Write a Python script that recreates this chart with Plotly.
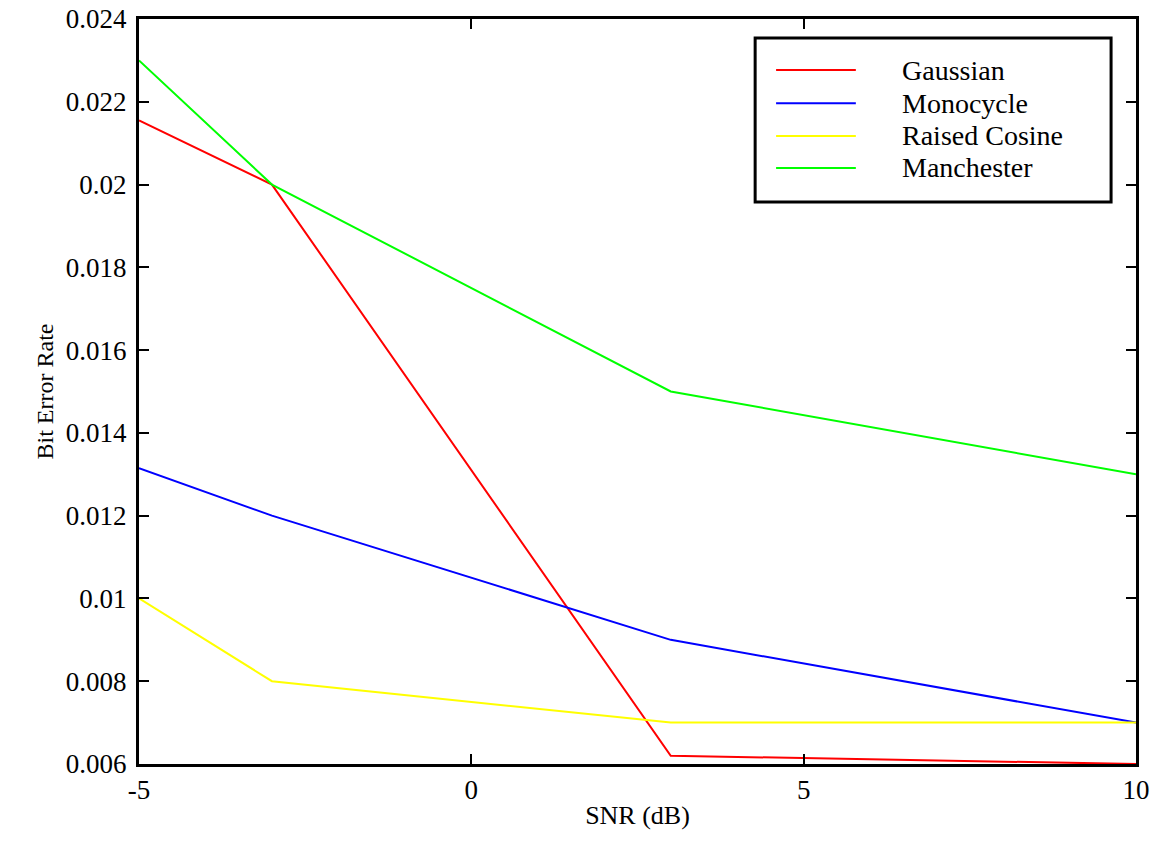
import plotly.graph_objects as go

snr = [-5, -3, 3, 10]
series_names = ["Gaussian", "Monocycle", "Raised Cosine", "Manchester"]
gaussian = [0.02155, 0.0200, 0.0062, 0.0060]
monocycle = [0.01315, 0.0120, 0.0090, 0.0070]
raised_cosine = [0.0100, 0.0080, 0.0070, 0.0070]
manchester = [0.0230, 0.0200, 0.0150, 0.0130]
colors = ["#ff0000", "#0000ff", "#ffff00", "#00ff00"]

y_ticks = [0.006, 0.008, 0.01, 0.012, 0.014, 0.016, 0.018, 0.02, 0.022, 0.024]
y_ticktext = ["0.006", "0.008", "0.01", "0.012", "0.014", "0.016", "0.018", "0.02", "0.022", "0.024"]
x_ticks = [-5, 0, 5, 10]
x_ticktext = ["-5", "0", "5", "10"]

FONT = "Liberation Serif"

fig = go.Figure()
for name, vals, c in zip(series_names, [gaussian, monocycle, raised_cosine, manchester], colors):
    fig.add_trace(go.Scatter(x=snr, y=vals, mode="lines", name=name,
                             line=dict(color=c, width=2), showlegend=False))

# custom legend (box, lines, labels) in paper coordinates
lx0, lx1 = 0.618, 0.975
ly0, ly1 = 0.7544, 0.9745
row_y = [0.9315, 0.887, 0.843, 0.800]
fig.add_shape(type="rect", xref="paper", yref="paper", x0=lx0, x1=lx1, y0=ly0, y1=ly1,
              line=dict(color="black", width=3), fillcolor="white", layer="above")
for name, c, ry in zip(series_names, colors, row_y):
    fig.add_shape(type="line", xref="paper", yref="paper", x0=0.639, x1=0.719, y0=ry, y1=ry,
                  line=dict(color=c, width=2), layer="above")
    fig.add_annotation(xref="paper", yref="paper", x=0.763, y=ry, text=name, showarrow=False,
                       xanchor="left", yanchor="middle", font=dict(family=FONT, size=28, color="black"))

axis_common = dict(showline=True, linecolor="black", linewidth=3, mirror="ticks",
                   ticks="inside", ticklen=10, tickwidth=1.5, tickcolor="black",
                   showgrid=False, zeroline=False, automargin=False,
                   tickfont=dict(family=FONT, size=27, color="black"))

fig.update_layout(
    width=1153, height=846,
    font=dict(family=FONT, size=24, color="black"),
    margin=dict(l=139, r=17, t=19, b=82),
    paper_bgcolor="white", plot_bgcolor="white",
    xaxis=dict(range=[-5, 10], tickvals=x_ticks, ticktext=x_ticktext,
               title=dict(text="SNR (dB)", font=dict(family=FONT, size=26, color="black"), standoff=2),
               **axis_common),
    yaxis=dict(range=[0.006, 0.024], tickvals=y_ticks, ticktext=y_ticktext,
               title=dict(text="Bit Error Rate", font=dict(family=FONT, size=24, color="black"), standoff=6),
               ticklabelstandoff=4,
               **axis_common),
)

fig.write_html("out.html")
